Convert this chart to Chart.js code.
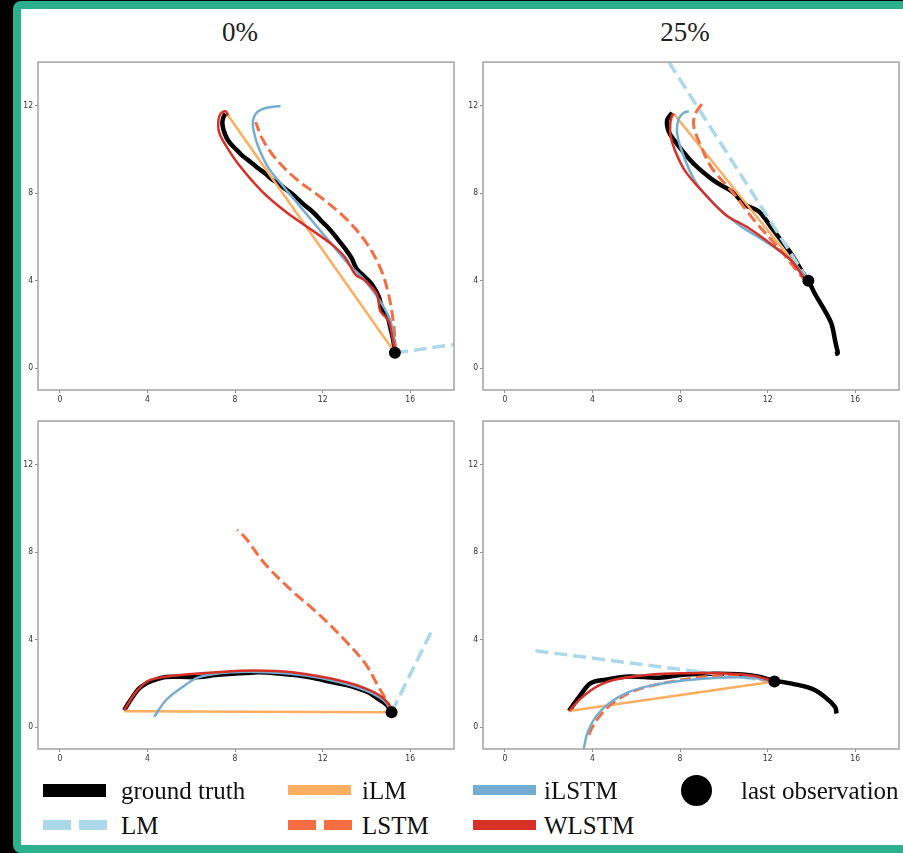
<!DOCTYPE html>
<html>
<head>
<meta charset="utf-8">
<script src="https://cdn.jsdelivr.net/npm/chart.js@4.4.1/dist/chart.umd.min.js"></script>
<style>
  html, body { margin: 0; padding: 0; background: #000; width: 903px; height: 853px; overflow: hidden; }
  #frame { position: absolute; left: 13px; top: 1px; width: 1000px; height: 852px; box-sizing: border-box;
           border: 8px solid #2cb08e; border-radius: 8px; background: #fff; }
  canvas { position: absolute; }
  .title { position: absolute; width: 100px; text-align: center; font-family: "Liberation Serif", "Times New Roman", serif;
           font-size: 27px; line-height: 27px; color: #222; }
  .lg-text { position: absolute; font-family: "Liberation Serif", "Times New Roman", serif; font-size: 25px;
             line-height: 25px; color: #111; white-space: nowrap; }
  .lg-mark { position: absolute; }
</style>
</head>
<body>
<div id="frame"></div>
<div class="title" style="left:190px; top:19px;">0%</div>
<div class="title" style="left:635px; top:19px;">25%</div>
<canvas id="pA" width="447" height="360" style="left:13px; top:55px;"></canvas>
<canvas id="pB" width="447" height="360" style="left:458px; top:55px;"></canvas>
<canvas id="pC" width="447" height="360" style="left:13px; top:414px;"></canvas>
<canvas id="pD" width="447" height="360" style="left:458px; top:414px;"></canvas>
<div id="legend"></div>
<script>
// Axis ranges and tick labels shared by all four panels
const X_RANGE = [-1, 18];
const Y_RANGE = [-1, 14];
const X_TICKS = [0, 4, 8, 12, 16];
const Y_TICKS = [0, 4, 8, 12];

// ---- Panel A: 0% observed, first trajectory ----
const gtA = [[15.3,0.7],[15.22,1.3],[15.09,1.86],[14.98,2.3],[14.71,2.77],[14.55,3.3],[14.25,3.84],[13.92,4.18],[13.55,4.55],[13.33,5.02],[13.04,5.45],[12.72,5.86],[12.43,6.22],[12.18,6.5],[11.95,6.72],[11.62,7.08],[11.37,7.3],[11.06,7.56],[10.72,7.88],[10.3,8.2],[9.98,8.44],[9.69,8.63],[9.38,8.9],[9.09,9.12],[8.72,9.42],[8.33,9.72],[8.06,10.0],[7.87,10.18],[7.66,10.45],[7.55,10.68],[7.45,11.0],[7.42,11.26],[7.48,11.5],[7.57,11.64]];
const lmA = [[15.3,0.7],[18.0,1.08]];
const ilmA = [[15.3,0.7],[7.65,11.6]];
const lstmA = [[15.3,0.7],[15.32,0.95],[15.24,2.02],[15.01,3.38],[14.63,4.59],[13.95,5.8],[13.04,6.86],[11.97,7.77],[10.76,8.68],[9.85,9.59],[9.24,10.5],[8.94,11.26]];
const ilstmA = [[15.28,0.8],[15.24,1.41],[15.09,2.17],[14.71,2.93],[13.95,3.99],[13.19,4.75],[12.43,5.65],[11.67,6.56],[10.91,7.47],[10.15,8.38],[9.54,9.14],[9.09,10.05],[8.86,10.8],[8.82,11.34],[9.01,11.71],[9.39,11.9],[10.08,11.99]];
const wlstmA = [[15.3,0.75],[15.16,1.56],[15.01,2.17],[14.63,2.62],[14.48,3.38],[13.95,3.99],[13.49,4.29],[13.04,5.05],[12.43,5.65],[11.37,6.41],[10.3,7.17],[9.24,8.08],[8.18,9.29],[7.57,10.2],[7.27,10.8],[7.24,11.34],[7.34,11.64],[7.57,11.75],[7.69,11.56]];
const lastA = [[15.3,0.7]];

// ---- Panel B: 25% observed, first trajectory ----
const gtB = [[15.08,0.65],[15.2,0.68],[15.15,0.95],[15.08,1.26],[14.92,2.02],[14.62,2.62],[14.17,3.38],[13.86,4.0],[13.56,4.44],[13.1,5.2],[12.65,5.8],[12.19,6.41],[11.59,7.17],[10.98,7.47],[10.37,8.08],[9.61,8.53],[8.85,9.14],[8.4,9.59],[7.79,10.35],[7.49,10.8],[7.41,11.34],[7.64,11.68]];
const lmB = [[13.86,4.0],[7.49,14.0]];
const ilmB = [[13.86,4.0],[7.71,11.64]];
const lstmB = [[13.86,4.0],[13.64,4.1],[12.5,5.5],[11.43,6.71],[10.37,8.08],[9.46,9.14],[8.93,10.2],[8.62,11.11],[8.7,11.64],[9.0,12.09]];
const ilstmB = [[13.86,4.0],[13.64,4.29],[12.95,5.05],[11.89,5.8],[10.67,6.56],[9.61,7.47],[8.7,8.53],[8.09,9.9],[7.86,10.8],[7.94,11.41],[8.17,11.68],[8.4,11.75]];
const wlstmB = [[13.86,4.0],[13.71,4.06],[13.1,4.9],[12.19,5.65],[11.13,6.41],[10.07,7.02],[9.16,7.93],[8.25,8.99],[7.79,9.9],[7.56,10.65],[7.56,11.26],[7.64,11.56],[7.71,11.64]];
const lastB = [[13.86,4.0]];

// ---- Panel C: 0% observed, second trajectory ----
const gtC = [[2.94,0.77],[3.1,1.05],[3.32,1.38],[3.6,1.75],[3.93,1.99],[4.3,2.15],[4.84,2.29],[5.5,2.3],[6.36,2.29],[7.1,2.38],[7.87,2.44],[8.5,2.48],[9.09,2.51],[10.0,2.45],[10.91,2.36],[11.7,2.22],[12.43,2.06],[13.1,1.92],[13.64,1.76],[14.1,1.58],[14.41,1.38],[14.75,1.15],[14.94,1.0],[15.13,0.7]];
const lmC = [[15.15,0.68],[16.98,4.41]];
const ilmC = [[2.94,0.73],[15.15,0.68]];
const lstmC = [[15.15,0.68],[15.09,0.92],[14.56,1.83],[13.95,2.9],[13.04,3.95],[11.82,5.17],[10.61,6.23],[9.39,7.44],[8.48,8.65],[8.1,9.03]];
const ilstmC = [[4.31,0.47],[4.84,1.23],[5.59,1.83],[6.36,2.29],[7.87,2.51],[9.39,2.51],[11.22,2.36],[12.73,2.06],[13.95,1.68],[14.78,1.23],[15.13,0.77]];
const wlstmC = [[2.94,0.77],[3.47,1.6],[4.08,2.14],[5.29,2.36],[7.12,2.51],[8.94,2.59],[10.61,2.51],[12.43,2.21],[13.8,1.83],[14.71,1.38],[15.09,0.92],[15.15,0.68]];
const lastC = [[15.15,0.68]];

// ---- Panel D: 25% observed, second trajectory ----
const gtD = [[2.93,0.74],[3.39,1.38],[3.92,2.01],[4.6,2.17],[5.66,2.32],[7.03,2.26],[8.25,2.41],[9.76,2.44],[11.28,2.36],[12.27,2.14],[13.1,1.99],[14.01,1.76],[14.62,1.38],[15.08,0.92],[15.15,0.62]];
const lmD = [[12.31,2.09],[1.33,3.5]];
const ilmD = [[2.93,0.74],[12.31,2.09]];
const lstmD = [[3.85,-0.35],[3.92,-0.14],[4.3,0.47],[4.9,1.08],[5.96,1.68],[7.49,2.06],[9.0,2.29],[10.52,2.36],[12.31,2.09]];
const ilstmD = [[3.6,-1.0],[3.76,-0.29],[4.15,0.47],[4.75,1.08],[5.66,1.61],[6.72,1.91],[8.25,2.14],[9.76,2.26],[11.28,2.26],[12.31,2.09]];
const wlstmD = [[2.93,0.74],[3.54,1.38],[4.3,1.91],[5.21,2.21],[6.72,2.41],[8.25,2.47],[9.76,2.47],[11.28,2.36],[12.31,2.09]];
const lastD = [[12.31,2.09]];

// Series appearance (RdYlBu palette)
const STYLE = {
  gt:    { label: 'ground truth', color: '#000000', width: 4.5, dash: [] },
  lm:    { label: 'LM',           color: '#abd9e9', width: 3.5, dash: [13, 6] },
  ilm:   { label: 'iLM',          color: '#fdae61', width: 2.5, dash: [] },
  lstm:  { label: 'LSTM',         color: '#f46d43', width: 3,   dash: [11, 5] },
  ilstm: { label: 'iLSTM',        color: '#74add1', width: 2.5, dash: [] },
  wlstm: { label: 'WLSTM',        color: '#d73027', width: 2.5, dash: [] }
};
// Drawing order: smaller order value is painted on top
const ORDER = { last: 0, wlstm: 1, ilstm: 2, lstm: 3, ilm: 4, lm: 5, gt: 6 };

const toXY = arr => arr.map(p => ({ x: p[0], y: p[1] }));

// Full box around each plot area
const boxPlugin = {
  id: 'box',
  afterDraw(chart) {
    const { ctx, chartArea: a } = chart;
    ctx.save();
    ctx.strokeStyle = '#a8a8a8';
    ctx.lineWidth = 1.6;
    ctx.strokeRect(a.left, a.top, a.right - a.left, a.bottom - a.top);
    ctx.restore();
  }
};

function axis(range, ticks, fitProp) {
  return {
    type: 'linear',
    min: range[0],
    max: range[1],
    afterBuildTicks: s => { s.ticks = ticks.map(v => ({ value: v })); },
    afterFit: s => { s[fitProp] = 25; },
    grid: { display: true, drawOnChartArea: false, drawTicks: true, tickLength: 3, color: '#8a8a8a', lineWidth: 1 },
    border: { display: false },
    ticks: { color: '#333', padding: 2, font: { family: '"Liberation Sans Narrow", "DejaVu Sans Condensed", sans-serif', size: 8.5 } }
  };
}

function panel(id, series) {
  const datasets = [];
  ['gt', 'lm', 'ilm', 'lstm', 'ilstm', 'wlstm'].forEach(k => {
    const s = STYLE[k];
    datasets.push({
      label: s.label,
      data: toXY(series[k]),
      showLine: true,
      borderColor: s.color,
      backgroundColor: s.color,
      borderWidth: s.width,
      borderDash: s.dash,
      borderCapStyle: 'butt',
      borderJoinStyle: 'round',
      tension: 0.35,
      pointRadius: 0,
      order: ORDER[k]
    });
  });
  datasets.push({
    label: 'last observation',
    data: toXY(series.last),
    showLine: false,
    pointRadius: 6,
    pointBorderWidth: 0,
    backgroundColor: '#000',
    borderColor: '#000',
    order: ORDER.last
  });
  new Chart(document.getElementById(id), {
    type: 'scatter',
    data: { datasets },
    options: {
      responsive: false,
      animation: false,
      devicePixelRatio: 1,
      layout: { padding: { top: 5, right: 5, left: 0, bottom: 0 } },
      plugins: { legend: { display: false }, tooltip: { enabled: false } },
      scales: {
        x: axis(X_RANGE, X_TICKS, 'height'),
        y: axis(Y_RANGE, Y_TICKS, 'width')
      }
    },
    plugins: [boxPlugin]
  });
}

panel('pA', { gt: gtA, lm: lmA, ilm: ilmA, lstm: lstmA, ilstm: ilstmA, wlstm: wlstmA, last: lastA });
panel('pB', { gt: gtB, lm: lmB, ilm: ilmB, lstm: lstmB, ilstm: ilstmB, wlstm: wlstmB, last: lastB });
panel('pC', { gt: gtC, lm: lmC, ilm: ilmC, lstm: lstmC, ilstm: ilstmC, wlstm: wlstmC, last: lastC });
panel('pD', { gt: gtD, lm: lmD, ilm: ilmD, lstm: lstmD, ilstm: ilstmD, wlstm: wlstmD, last: lastD });

// Shared legend below the panels
const LEGEND_LAYOUT = [
  { key: 'gt',    col: 0, row: 0 },
  { key: 'ilm',   col: 1, row: 0 },
  { key: 'ilstm', col: 2, row: 0 },
  { key: 'last',  col: 3, row: 0 },
  { key: 'lm',    col: 0, row: 1 },
  { key: 'lstm',  col: 1, row: 1 },
  { key: 'wlstm', col: 2, row: 1 }
];
const COL_X = [43, 288, 473, 681];
const TEXT_X = [121, 362, 544, 741];
const ROW_Y = [790, 825];
const legend = document.getElementById('legend');
function mark(x, y, w, h, color, radius) {
  const d = document.createElement('div');
  d.className = 'lg-mark';
  d.style.cssText = `left:${x}px;top:${y}px;width:${w}px;height:${h}px;background:${color};` + (radius ? `border-radius:${radius};` : '');
  legend.appendChild(d);
}
LEGEND_LAYOUT.forEach(e => {
  const cy = ROW_Y[e.row];
  const x0 = COL_X[e.col];
  let label;
  if (e.key === 'last') {
    mark(x0, cy - 15, 31, 31, '#000', '50%');
    label = 'last observation';
  } else {
    const s = STYLE[e.key];
    const h = e.key === 'gt' ? 13 : 10;
    if (s.dash.length) {
      mark(x0, cy - h / 2, 28, h, s.color);
      mark(x0 + 36, cy - h / 2, 28, h, s.color);
    } else {
      mark(x0, cy - h / 2, 63, h, s.color);
    }
    label = s.label;
  }
  const t = document.createElement('div');
  t.className = 'lg-text';
  t.textContent = label;
  t.style.left = TEXT_X[e.col] + 'px';
  t.style.top = (cy - 12) + 'px';
  legend.appendChild(t);
});
</script>
</body>
</html>
